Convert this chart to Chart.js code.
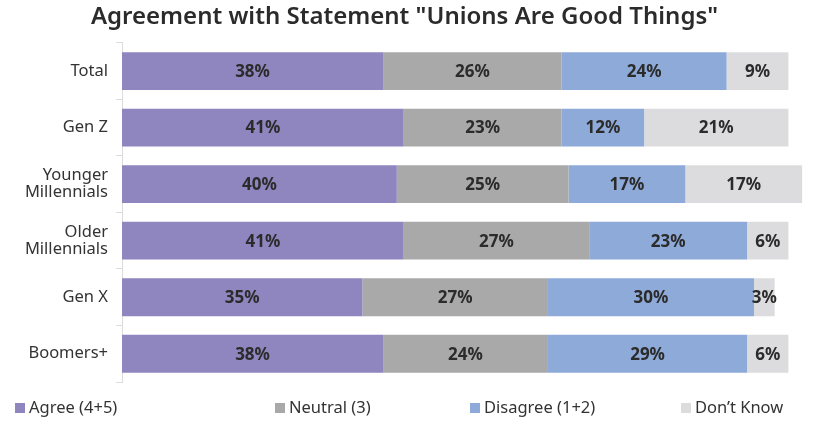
<!DOCTYPE html>
<html>
<head>
<meta charset="utf-8">
<script src="https://cdn.jsdelivr.net/npm/chart.js@4"></script>
<style>
  html, body { margin: 0; padding: 0; background: #fff; }
  #wrap { position: relative; width: 822px; height: 427px; }
  #legend { position: absolute; left: 0; top: 395px; width: 822px; height: 22px;
            font-family: "Noto Sans", sans-serif; font-size: 16.5px; color: #333; }
  #legend span.item { position: absolute; top: 0; white-space: nowrap; }
  #legend span.box { display: inline-block; width: 10px; height: 10px; margin-right: 4px; vertical-align: 0px; }
</style>
</head>
<body>
<div id="wrap">
  <canvas id="unionsChart" width="822" height="427"></canvas>
  <div id="legend"></div>
</div>
<script>
const categories = ['Total', 'Gen Z', ['Younger', 'Millennials'], ['Older', 'Millennials'], 'Gen X', 'Boomers+'];
const seriesNames = ['Agree (4+5)', 'Neutral (3)', 'Disagree (1+2)', 'Don\u2019t Know'];
const agree = [38, 41, 40, 41, 35, 38];
const neutral = [26, 23, 25, 27, 27, 24];
const disagree = [24, 12, 17, 23, 30, 29];
const dontKnow = [9, 21, 17, 6, 3, 6];
const colors = ['#8f86bf', '#a9a9a9', '#8eaad8', '#dcdcde'];
const legendLeft = [15, 275, 470, 681];

document.addEventListener("DOMContentLoaded", function() {
    const values = [agree, neutral, disagree, dontKnow];

    // bar value labels, drawn in the middle of every segment
    const segmentLabels = {
        id: 'segmentLabels',
        afterDatasetsDraw(chart) {
            const ctx = chart.ctx;
            ctx.save();
            ctx.font = 'bold 17px "Noto Sans", sans-serif';
            ctx.fillStyle = '#2b2b2b';
            ctx.textAlign = 'center';
            ctx.textBaseline = 'middle';
            chart.data.datasets.forEach((ds, i) => {
                chart.getDatasetMeta(i).data.forEach((bar, j) => {
                    ctx.fillText(ds.data[j] + '%', (bar.x + bar.base) / 2, bar.y + 1);
                });
            });
            ctx.restore();
        }
    };

    var ctx = document.getElementById('unionsChart').getContext('2d');
    var myChart = new Chart(ctx, {
        type: 'bar',
        data: {
            labels: categories,
            datasets: seriesNames.map((name, i) => ({
                label: name,
                data: values[i],
                backgroundColor: colors[i],
                borderWidth: 0,
                barPercentage: 0.67,
                categoryPercentage: 1
            }))
        },
        options: {
            indexAxis: 'y',
            responsive: false,
            animation: false,
            layout: { padding: { left: 0, right: 13, top: 0, bottom: 45 } },
            plugins: {
                legend: { display: false },
                tooltip: { enabled: false },
                title: {
                    display: true,
                    text: 'Agreement with Statement "Unions Are Good Things"',
                    color: '#2b2b2b',
                    font: { family: '"Noto Sans", sans-serif', size: 24, weight: '600' },
                    padding: { top: 3, bottom: 11 }
                }
            },
            scales: {
                x: { display: false, stacked: true, min: 0, max: 100 },
                y: {
                    stacked: true,
                    afterFit: (scale) => { scale.width = 122; },
                    border: { color: '#dcdcdc', width: 1 },
                    grid: { drawOnChartArea: false, color: '#dcdcdc', tickLength: 6, offset: true },
                    ticks: {
                        color: '#333',
                        padding: 8,
                        font: { family: '"Noto Sans", sans-serif', size: 16.5, lineHeight: 1.05 }
                    }
                }
            }
        },
        plugins: [segmentLabels]
    });

    const legend = document.getElementById('legend');
    seriesNames.forEach((name, i) => {
        const item = document.createElement('span');
        item.className = 'item';
        item.style.left = legendLeft[i] + 'px';
        item.innerHTML = '<span class="box" style="background:' + colors[i] + '"></span>' + name;
        legend.appendChild(item);
    });
});
</script>
</body>
</html>
